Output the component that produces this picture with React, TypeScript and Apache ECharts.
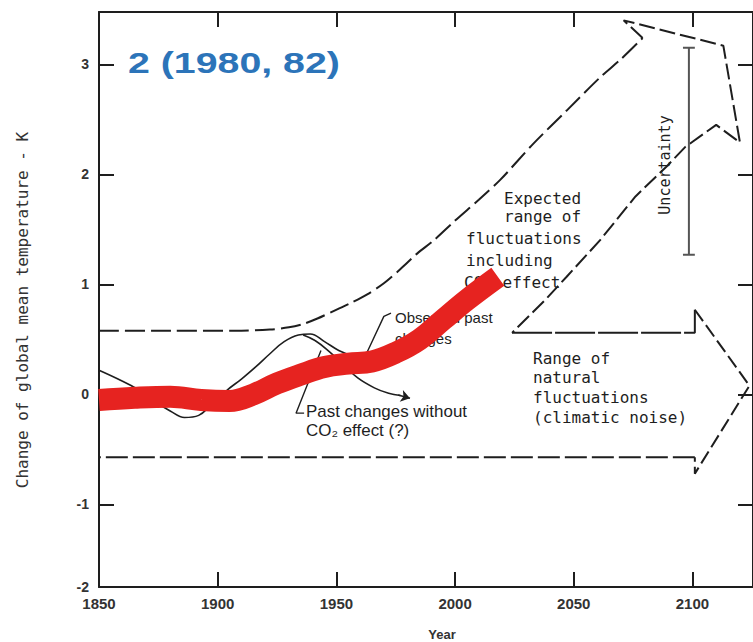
import React, { useEffect, useRef } from "react";
import * as echarts from "echarts";

// ---- axes ----
const xTicks = [1850, 1900, 1950, 2000, 2050, 2100];
const yTicks = [-1, 0, 1, 2, 3];
const yLabelValues = [-1.75, -1, 0, 1, 2, 3];
const X_MIN = 1850;
const X_MAX = 2125.5;
const Y_MIN = -1.75;
const Y_MAX = 3.476;

// ---- data (year, K) ----
const redSmoothed: [number, number][] = [
  [1850, -0.05], [1865, -0.03], [1880, -0.02], [1893, -0.05], [1905, -0.06],
  [1915, 0.0], [1925, 0.1], [1935, 0.18], [1945, 0.25], [1955, 0.28],
  [1965, 0.3], [1975, 0.38], [1985, 0.5], [1995, 0.68], [2005, 0.86], [2018, 1.07],
];

const observedPast: [number, number][] = [
  [1850, 0.22], [1858, 0.14], [1866, 0.05], [1874, -0.07], [1880, -0.15],
  [1886, -0.21], [1892, -0.19], [1897, -0.1], [1904, 0.04], [1910, 0.14],
  [1916, 0.25], [1922, 0.37], [1928, 0.48], [1934, 0.54], [1939, 0.55],
  [1945, 0.48], [1951, 0.4], [1957, 0.35], [1962, 0.33], [1968, 0.36],
];

const withoutCO2: [number, number][] = [
  [1936, 0.54], [1941, 0.49], [1947, 0.39], [1953, 0.27], [1959, 0.15],
  [1966, 0.06], [1972, 0.01], [1977, -0.01],
];
const withoutCO2Tip: [number, number][] = [[1976, -0.005], [1981, -0.035]];

const co2UpperEdge: [number, number][] = [
  [1850, 0.58], [1880, 0.58], [1910, 0.58], [1922, 0.59], [1930, 0.61],
  [1936, 0.64], [1942, 0.69], [1949, 0.76], [1956, 0.83], [1963, 0.91],
  [1970, 1.01], [1977, 1.14], [1984, 1.28], [1991, 1.4], [2000, 1.58],
  [2010, 1.77], [2019, 1.95], [2033, 2.28], [2047, 2.58], [2061, 2.88],
  [2070, 3.05], [2079, 3.24],
];
const co2ArrowAndLowerEdge: [number, number][] = [
  [2079, 3.24], [2071, 3.4], [2113, 3.17], [2120, 2.29], [2110, 2.45],
  [2097, 2.25], [2089, 2.07], [2076, 1.8], [2061, 1.4], [2047, 1.07],
  [2038, 0.86], [2024, 0.56],
];
const naturalArrowTop: [number, number][] = [
  [2024, 0.56], [2101, 0.56], [2101, 0.77],
];
const naturalArrowHead: [number, number][] = [
  [2101, 0.77], [2124, 0.08], [2101, -0.72], [2101, -0.57],
];
const naturalArrowBottom: [number, number][] = [
  [2101, -0.57], [1850, -0.57],
];

const uncertaintyBar: [number, number][] = [
  [2096, 3.15], [2101, 3.15], [2098.5, 3.15], [2098.5, 1.27], [2096, 1.27], [2101, 1.27],
];

const observedLeader: [number, number][] = [[1973, 0.74], [1970, 0.71], [1962, 0.34]];
const pastLeader: [number, number][] = [[1936.4, -0.17], [1933, -0.17], [1943.5, 0.4]];

// ---- texts ----
const titleText = "2 (1980, 82)";
const yAxisTitle = "Change of global mean temperature - K";
const xAxisTitle = "Year";
const expectedLines = ["Expected", "range of", "fluctuations", "including", "CO\u2082 effect"];
const naturalLines = ["Range of", "natural", "fluctuations", "(climatic noise)"];
const observedLines = ["Observed past", "changes"];
const pastLines = ["Past changes without", "CO\u2082 effect (?)"];
const uncertaintyText = "Uncertainty";

const INK = "#1e1e1e";
const MONO = "DejaVu Sans Mono";
const SANS = "Liberation Sans";

function line(data: [number, number][], opts: any = {}) {
  return {
    type: "line",
    data,
    symbol: "none",
    silent: true,
    smooth: opts.smooth ?? false,
    z: opts.z ?? 3,
    lineStyle: {
      color: opts.color ?? INK,
      width: opts.width ?? 2,
      type: opts.dash ?? "solid",
      cap: opts.cap ?? "butt",
    },
  };
}

function txt(text: string, x: number, y: number, style: any = {}, extra: any = {}) {
  return {
    type: "text",
    x,
    y,
    z: 1,
    ...extra,
    style: {
      text,
      fill: INK,
      fontFamily: MONO,
      fontSize: 16,
      align: "left",
      textAlign: "left",
      verticalAlign: "middle",
      textVerticalAlign: "middle",
      ...style,
    },
  };
}

function buildOption(): any {
  const graphics: any[] = [];
  graphics.push(
    txt(titleText, 128, 62, { fill: "#2c74b9", fontFamily: SANS, fontWeight: "bold", fontSize: 30 }, { scaleX: 1.31 })
  );
  graphics.push(
    txt(yAxisTitle, 22, 310, { fontSize: 16, align: "center", textAlign: "center", fill: "#333" }, { rotation: Math.PI / 2 })
  );
  graphics.push(
    txt(xAxisTitle, 442, 634, { fontSize: 13, fontFamily: SANS, fontWeight: "bold", align: "center", textAlign: "center", fill: "#333" })
  );
  const expPos: [number, number][] = [[504, 198], [504, 216], [466, 238], [466, 260], [464, 282]];
  expectedLines.forEach((t, i) => graphics.push(txt(t, expPos[i][0], expPos[i][1])));
  naturalLines.forEach((t, i) => graphics.push(txt(t, 533, 358 + i * 19.7)));
  observedLines.forEach((t, i) =>
    graphics.push(txt(t, 395, 317 + i * 21, { fontFamily: SANS, fontSize: 15 }))
  );
  pastLines.forEach((t, i) =>
    graphics.push(txt(t, 306, 411 + i * 19, { fontFamily: SANS, fontSize: 16 }, { scaleX: 1.06 }))
  );
  graphics.push(
    txt(uncertaintyText, 665, 165, { fontSize: 15, align: "center", textAlign: "center" }, { rotation: Math.PI / 2 })
  );

  const xCommon = {
    type: "value",
    min: X_MIN,
    max: X_MAX,
    splitLine: { show: false },
    axisLine: { show: true, onZero: false, lineStyle: { color: INK, width: 2 } },
    axisTick: { show: true, inside: true, length: 15, customValues: xTicks, lineStyle: { color: INK, width: 2 } },
  };
  const yCommon = {
    type: "value",
    min: Y_MIN,
    max: Y_MAX,
    splitLine: { show: false },
    axisLine: { show: true, onZero: false, lineStyle: { color: INK, width: 2 } },
    axisTick: { show: true, inside: true, length: 15, customValues: yTicks, lineStyle: { color: INK, width: 2 } },
  };

  return {
    animation: false,
    backgroundColor: "#ffffff",
    grid: { left: 99, top: 12, width: 658, height: 575, containLabel: false },
    xAxis: [
      {
        ...xCommon,
        position: "bottom",
        axisLabel: {
          show: true,
          customValues: xTicks,
          formatter: (v: number) => (v % 50 === 0 ? String(v) : ""),
          color: "#333",
          fontFamily: SANS,
          fontWeight: "bold",
          fontSize: 15,
          margin: 9,
        },
      },
      { ...xCommon, position: "top", axisLabel: { show: false } },
    ],
    yAxis: [
      {
        ...yCommon,
        position: "left",
        axisLabel: {
          show: true,
          customValues: yLabelValues,
          formatter: (v: number) => (v < -1.5 ? "-2" : String(v)),
          color: "#333",
          fontFamily: SANS,
          fontWeight: "bold",
          fontSize: 14,
          margin: 10,
        },
      },
      { ...yCommon, position: "right", axisLabel: { show: false } },
    ],
    graphic: { elements: graphics },
    series: [
      line(co2UpperEdge, { smooth: 0.3, dash: [20, 6] }),
      line(co2ArrowAndLowerEdge, { dash: [16, 5] }),
      line(naturalArrowTop, { dash: [40, 3] }),
      line(naturalArrowHead, { dash: [14, 5] }),
      line(naturalArrowBottom, { dash: [22, 5] }),
      line(observedPast, { smooth: 0.4, width: 1.6 }),
      line(withoutCO2, { smooth: 0.4, width: 1.6 }),
      {
        type: "lines",
        coordinateSystem: "cartesian2d",
        silent: true,
        z: 3,
        symbol: ["none", "arrow"],
        symbolSize: 9,
        lineStyle: { color: INK, width: 1.6, opacity: 1 },
        data: [{ coords: withoutCO2Tip }],
      },
      line(observedLeader, { width: 1.4 }),
      line(pastLeader, { width: 1.4 }),
      line(uncertaintyBar, { width: 2, color: "#555" }),
      line(redSmoothed, { smooth: 0.4, width: 22, color: "#e62320", z: 10 }),
    ],
  };
}

export default function App() {
  const ref = useRef<HTMLDivElement>(null);
  useEffect(() => {
    if (!ref.current) return;
    const chart = echarts.init(ref.current, null, { renderer: "svg" });
    chart.setOption(buildOption());
    return () => chart.dispose();
  }, []);
  return (
    <div
      ref={ref}
      style={{ position: "absolute", left: 0, top: 0, width: 753, height: 642, background: "#fff" }}
    />
  );
}
